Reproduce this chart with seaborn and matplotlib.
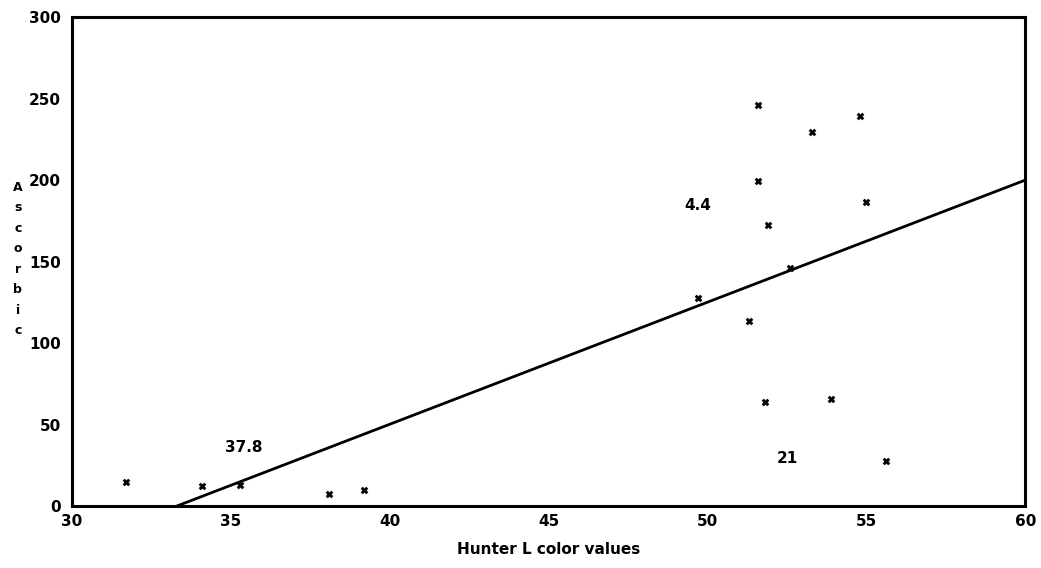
import matplotlib
matplotlib.use("Agg")
import matplotlib.pyplot as plt
import seaborn as sns
import pandas as pd

# Data
hunter_l = [31.7, 34.1, 35.3, 38.1, 39.2, 49.7, 51.3, 51.6, 51.6, 51.9, 51.8,
            52.6, 53.3, 53.9, 54.8, 55.0, 55.6]
ascorbic = [14.8, 12.3, 13.0, 7.4, 9.9, 127.8, 113.6, 246.3, 199.4, 172.2, 63.6,
            146.3, 229.6, 65.4, 239.5, 186.4, 27.8]

fit_x = [33.3, 60.0]
fit_y = [0.0, 200.0]

note_text = ["37.8", "4.4", "21"]
note_x = [35.4, 49.7, 52.5]
note_y = [35.8, 184.6, 29.0]

x_ticks = [30, 35, 40, 45, 50, 55, 60]
y_ticks = [0, 50, 100, 150, 200, 250, 300]

sns.set_theme(style="white")
plt.rcParams['font.family'] = ['DejaVu Sans']
plt.rcParams['font.weight'] = 'bold'
plt.rcParams['text.color'] = 'black'
plt.rcParams['axes.labelcolor'] = 'black'

fig = plt.figure(figsize=(10.41, 5.68), dpi=100)
ax = fig.add_axes([0.069, 0.109, 0.916, 0.861])

df = pd.DataFrame({"L": hunter_l, "A": ascorbic})
sns.scatterplot(data=df, x="L", y="A", marker="X", s=26, color="black",
                edgecolor="black", linewidth=0.3, ax=ax)
fit = pd.DataFrame({"x": fit_x, "y": fit_y})
sns.lineplot(data=fit, x="x", y="y", color="black", linewidth=2.0, ax=ax)

for t, xx, yy in zip(note_text, note_x, note_y):
    ax.text(xx, yy, t, ha="center", va="center", fontsize=11,
            fontweight="bold", color="black")

ax.set_xlim(30, 60)
ax.set_ylim(0, 300)
ax.set_xticks(x_ticks)
ax.set_yticks(y_ticks)
ax.set_xticklabels([str(v) for v in x_ticks], fontsize=11, fontweight="bold")
ax.set_yticklabels([str(v) for v in y_ticks], fontsize=11, fontweight="bold")
ax.tick_params(axis="both", direction="in", length=8, width=1.8, color="black",
               pad=6, labelcolor="black")
ax.tick_params(axis="y", pad=8)

for side in ["top", "bottom", "left", "right"]:
    ax.spines[side].set_visible(True)
    ax.spines[side].set_color("black")
    ax.spines[side].set_linewidth(2.2)

ax.set_xlabel("Hunter L color values", fontsize=11, fontweight="bold",
              labelpad=9, color="black")
ax.set_ylabel("")

fig.text(0.017, 0.544, "\n".join("Ascorbic"), ha="center", va="center",
         fontsize=9, fontweight="bold", linespacing=1.75, color="black")

fig.savefig("out.png", dpi=100, facecolor="white")
